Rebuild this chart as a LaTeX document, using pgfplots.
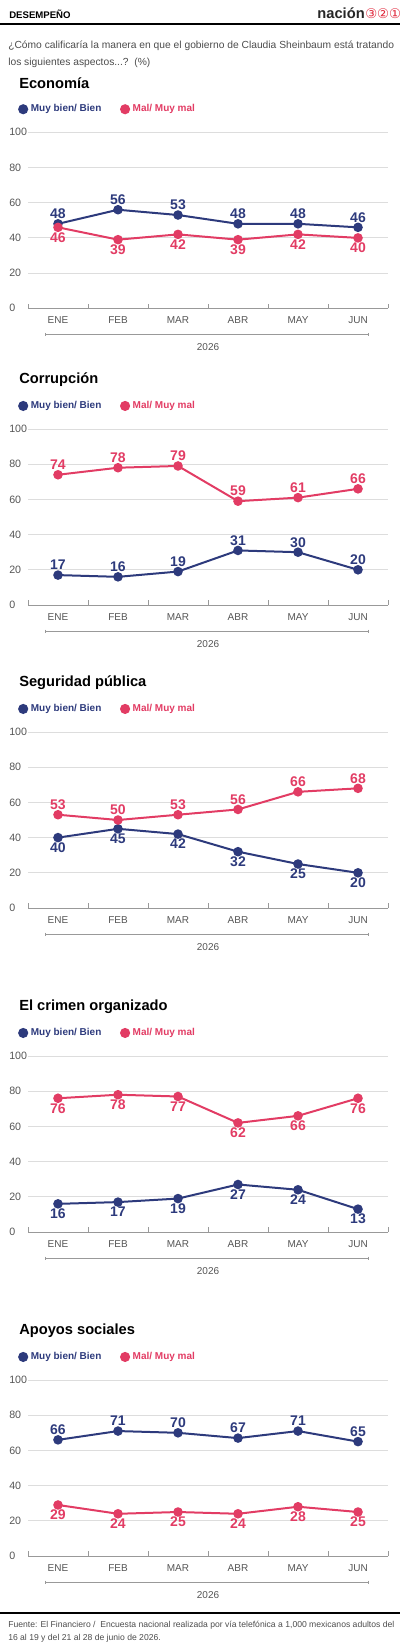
\documentclass[border=0pt]{standalone}
\usepackage{pgfplots}
\pgfplotsset{compat=1.18}
\usepackage{fontspec}
\setmainfont{Liberation Sans}
\newfontfamily\djv{DejaVu Sans}
\definecolor{navy}{HTML}{2D3A7C}
\definecolor{pink}{HTML}{E23C64}
\definecolor{logored}{HTML}{E0283C}
\definecolor{tickgray}{HTML}{555555}
\definecolor{gridgray}{HTML}{DDDDDD}
\definecolor{axgray}{HTML}{999999}

\pgfplotsset{
  panel/.style={
    width=270pt, height=132pt, scale only axis, anchor=south west,
    /pgf/number format/assume math mode=true,
    xmin=-0.5, xmax=5.5, ymin=0, ymax=100,
    axis x line*=bottom, axis y line*=left,
    y axis line style={draw=none},
    x axis line style={draw=axgray, line width=0.6pt},
    ytick={0,20,...,100},
    ymajorgrids, grid style={draw=gridgray, line width=0.7pt},
    ytick style={draw=none},
    xtick={0,...,5}, xticklabels={ENE,FEB,MAR,ABR,MAY,JUN},
    major tick length=0pt,
    extra x ticks={-0.5,0.5,1.5,2.5,3.5,4.5,5.5},
    extra x tick labels={},
    extra x tick style={major tick length=3.5pt, tick align=inside, tick style={draw=axgray, line width=0.6pt}},
    xticklabel style={font=\fontsize{7.5}{9}\selectfont, text=tickgray, anchor=center, yshift=-9pt},
    yticklabel style={font=\fontsize{8}{9}\selectfont, text=tickgray, anchor=west, xshift=-14.25pt, inner sep=0pt},
    legend columns=2,
    legend style={at={(-0.028,1.131)}, anchor=west, draw=none, fill=none,
      font=\bfseries\fontsize{7.5}{9}\selectfont, inner sep=0pt,
      nodes={inner sep=2pt},
      /tikz/every even column/.append style={column sep=12pt}},
  },
  bl/.style={color=navy, line width=1.5pt, mark=*, mark size=2.8pt,
    mark options={draw=none, fill=navy},
    nodes near coords,
    every node near coord/.append style={font=\bfseries\fontsize{10.5}{12}\selectfont, text=navy, anchor=center},
    legend image code/.code={\fill[navy] (3pt,0pt) circle (3pt);}},
  rd/.style={color=pink, line width=1.5pt, mark=*, mark size=2.8pt,
    mark options={draw=none, fill=pink},
    nodes near coords,
    every node near coord/.append style={font=\bfseries\fontsize{10.5}{12}\selectfont, text=pink, anchor=center},
    legend image code/.code={\fill[pink] (3pt,0pt) circle (3pt);}},
  up/.style={every node near coord/.append style={yshift=7.5pt}},
  dn/.style={every node near coord/.append style={yshift=-7.5pt}},
}

\newcommand\deco[2]{%
  \node[anchor=west, inner sep=0pt, font=\bfseries\fontsize{11}{13}\selectfont] at (19,#1-225.5) {#2};
  \draw[axgray, line width=0.5pt] (45,#1+26) -- (368,#1+26);
  \draw[axgray, line width=0.5pt] (45,#1+24.5) -- (45,#1+27.5);
  \draw[axgray, line width=0.5pt] (368,#1+24.5) -- (368,#1+27.5);
  \node[font=\fontsize{7.5}{9}\selectfont, text=tickgray] at (208,#1+39) {2026};
}

\begin{document}
\begin{tikzpicture}
\begin{scope}[x=0.75pt, y=-0.75pt]
\useasboundingbox (0,0) rectangle (400,1651);
% header
\node[anchor=west, inner sep=0pt, font=\bfseries\fontsize{7.2}{9}\selectfont] at (9,14) {DESEMPEÑO};
\draw[line width=2pt] (0,24) -- (400,24);
\node[anchor=east, inner sep=0pt, font=\bfseries\fontsize{11}{13}\selectfont, text=black!85] at (365,13) {nación};
\node[anchor=west, inner sep=0pt, font=\djv\fontsize{10}{12}\selectfont, text=logored] at (365,14) {③②①};
\node[anchor=base west, inner sep=0pt, font=\fontsize{7.7}{9}\selectfont, text=black!70] at (8,48.5) {¿Cómo calificaría la manera en que el gobierno de Claudia Sheinbaum está tratando};
\node[anchor=base west, inner sep=0pt, font=\fontsize{7.7}{9}\selectfont, text=black!70] at (8,65.5) {los siguientes aspectos...?~~(\%)};
\deco{308.3}{Economía}
\deco{605}{Corrupción}
\deco{908}{Seguridad pública}
\deco{1232}{El crimen organizado}
\deco{1556}{Apoyos sociales}
% footer
\draw[line width=2.2pt] (0,1613) -- (400,1613);
\node[anchor=base west, inner sep=0pt, font=\fontsize{6.45}{7.5}\selectfont, text=black!70] at (8,1627.5) {Fuente: El Financiero /~~Encuesta nacional realizada por vía telefónica a 1,000 mexicanos adultos del};
\node[anchor=base west, inner sep=0pt, font=\fontsize{6.45}{7.5}\selectfont, text=black!70] at (8,1640.5) {16 al 19 y del 21 al 28 de junio de 2026.};
\end{scope}

% Economía
\begin{axis}[panel, at={(21pt,-231.225pt)}]
\addplot[bl, up] coordinates {(0,48) (1,56) (2,53) (3,48) (4,48) (5,46)};
\addlegendentry{\textcolor{navy}{Muy bien/ Bien}}
\addplot[rd, dn] coordinates {(0,46) (1,39) (2,42) (3,39) (4,42) (5,40)};
\addlegendentry{\textcolor{pink}{Mal/ Muy mal}}
\end{axis}

% Corrupción
\begin{axis}[panel, at={(21pt,-453.75pt)}]
\addplot[bl, up] coordinates {(0,17) (1,16) (2,19) (3,31) (4,30) (5,20)};
\addlegendentry{\textcolor{navy}{Muy bien/ Bien}}
\addplot[rd, up] coordinates {(0,74) (1,78) (2,79) (3,59) (4,61) (5,66)};
\addlegendentry{\textcolor{pink}{Mal/ Muy mal}}
\end{axis}

% Seguridad pública
\begin{axis}[panel, at={(21pt,-681pt)}]
\addplot[bl, dn] coordinates {(0,40) (1,45) (2,42) (3,32) (4,25) (5,20)};
\addlegendentry{\textcolor{navy}{Muy bien/ Bien}}
\addplot[rd, up] coordinates {(0,53) (1,50) (2,53) (3,56) (4,66) (5,68)};
\addlegendentry{\textcolor{pink}{Mal/ Muy mal}}
\end{axis}

% El crimen organizado
\begin{axis}[panel, at={(21pt,-924pt)}]
\addplot[bl, dn] coordinates {(0,16) (1,17) (2,19) (3,27) (4,24) (5,13)};
\addlegendentry{\textcolor{navy}{Muy bien/ Bien}}
\addplot[rd, dn] coordinates {(0,76) (1,78) (2,77) (3,62) (4,66) (5,76)};
\addlegendentry{\textcolor{pink}{Mal/ Muy mal}}
\end{axis}

% Apoyos sociales
\begin{axis}[panel, at={(21pt,-1167pt)}]
\addplot[bl, up] coordinates {(0,66) (1,71) (2,70) (3,67) (4,71) (5,65)};
\addlegendentry{\textcolor{navy}{Muy bien/ Bien}}
\addplot[rd, dn] coordinates {(0,29) (1,24) (2,25) (3,24) (4,28) (5,25)};
\addlegendentry{\textcolor{pink}{Mal/ Muy mal}}
\end{axis}
\end{tikzpicture}
\end{document}
